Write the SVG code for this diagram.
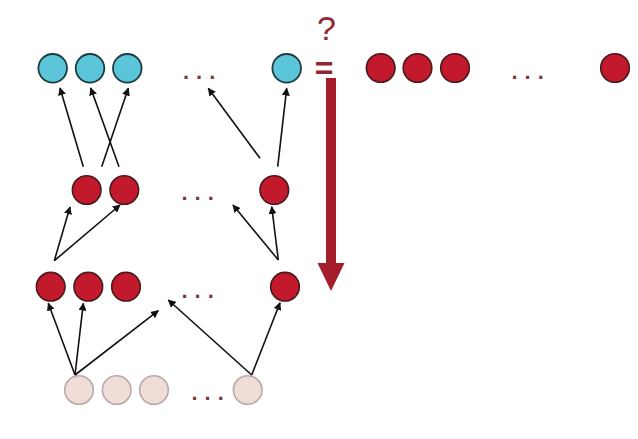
<svg xmlns="http://www.w3.org/2000/svg" width="638" height="439" viewBox="0 0 638 439">
<style>
.cy{fill:#5bc5d9;stroke:#1f3a40;stroke-width:1.8}
.rd{fill:#c21a2c;stroke:#4a1a1c;stroke-width:1.6}
.bg{fill:#f1ddd7;stroke:#b8aaa6;stroke-width:1.6}
.dots{font-family:"Liberation Sans",Arial,sans-serif;font-size:22px;font-weight:bold;fill:#7a3a3c;letter-spacing:7px}
.sym{font-family:"Liberation Sans",Arial,sans-serif;fill:#8f2834}
.cn line{stroke:#111;stroke-width:1.6;marker-end:url(#ah)}
</style>
<defs>
<marker id="ah" viewBox="0 0 10 10" refX="9" refY="5" markerWidth="8" markerHeight="8" markerUnits="userSpaceOnUse" orient="auto"><path d="M0,0L10,5L0,10z" fill="#111"/></marker>
</defs>
<rect width="638" height="439" fill="#fff"/>
<g id="row1">
<circle id="c1a" class="cy" cx="52.7" cy="68.3" r="14.3"/>
<circle id="c1b" class="cy" cx="90" cy="68.3" r="14.3"/>
<circle id="c1c" class="cy" cx="127.3" cy="68.3" r="14.3"/>
<circle id="c1d" class="cy" cx="286.7" cy="68.3" r="14.3"/>
<text class="dots" x="183" y="79">...</text>
</g>
<g id="row2">
<circle id="c2a" class="rd" cx="86.7" cy="190" r="14.3"/>
<circle id="c2b" class="rd" cx="124.3" cy="190" r="14.3"/>
<circle id="c2c" class="rd" cx="274.3" cy="190" r="14.3"/>
<text class="dots" x="181.5" y="200">...</text>
</g>
<g id="row3">
<circle id="c3a" class="rd" cx="50.7" cy="286.7" r="14.3"/>
<circle id="c3b" class="rd" cx="88.3" cy="286.7" r="14.3"/>
<circle id="c3c" class="rd" cx="126" cy="286.7" r="14.3"/>
<circle id="c3d" class="rd" cx="285" cy="286.7" r="14.3"/>
<text class="dots" x="181.5" y="298">...</text>
</g>
<g id="row4">
<circle id="c4a" class="bg" cx="79" cy="390" r="14.3"/>
<circle id="c4b" class="bg" cx="116.7" cy="390" r="14.3"/>
<circle id="c4c" class="bg" cx="154" cy="390" r="14.3"/>
<circle id="c4d" class="bg" cx="247.7" cy="390" r="14.3"/>
<text class="dots" x="191.5" y="400">...</text>
</g>
<g id="target">
<circle id="t1" class="rd" cx="380.7" cy="68" r="14.3"/>
<circle id="t2" class="rd" cx="417.5" cy="68" r="14.3"/>
<circle id="t3" class="rd" cx="455" cy="68" r="14.3"/>
<circle id="t4" class="rd" cx="615" cy="68" r="14.3"/>
<text class="dots" x="511.5" y="79">...</text>
</g>
<g id="question">
<text class="sym" x="326.5" y="40" font-size="34" text-anchor="middle">?</text>
<text class="sym" x="324" y="79" font-size="32" font-weight="bold" text-anchor="middle">=</text>
</g>
<g id="downarrow">
<path d="M326,78H336V263H344.5L331,291L317.5,263H326Z" fill="#a51d2b"/>
</g>
<g id="connectors" class="cn">
<line x1="83.3" y1="166.7" x2="60" y2="88"/>
<line x1="101.7" y1="166.7" x2="128.3" y2="88.3"/>
<line x1="119" y1="166.7" x2="90.7" y2="88"/>
<line x1="260" y1="158.3" x2="208.3" y2="88.3"/>
<line x1="277.7" y1="166.7" x2="286.7" y2="88.3"/>
<line x1="54.3" y1="260.7" x2="70" y2="207"/>
<line x1="54.3" y1="260.7" x2="120" y2="205"/>
<line x1="278.3" y1="260" x2="233" y2="205"/>
<line x1="278.3" y1="260" x2="271.7" y2="206.7"/>
<line x1="75" y1="375" x2="48.3" y2="303.3"/>
<line x1="75" y1="375" x2="83.3" y2="303.3"/>
<line x1="75" y1="375" x2="158.3" y2="310.7"/>
<line x1="251.7" y1="375" x2="168.3" y2="300"/>
<line x1="251.7" y1="375" x2="280" y2="302.7"/>
</g>
</svg>
